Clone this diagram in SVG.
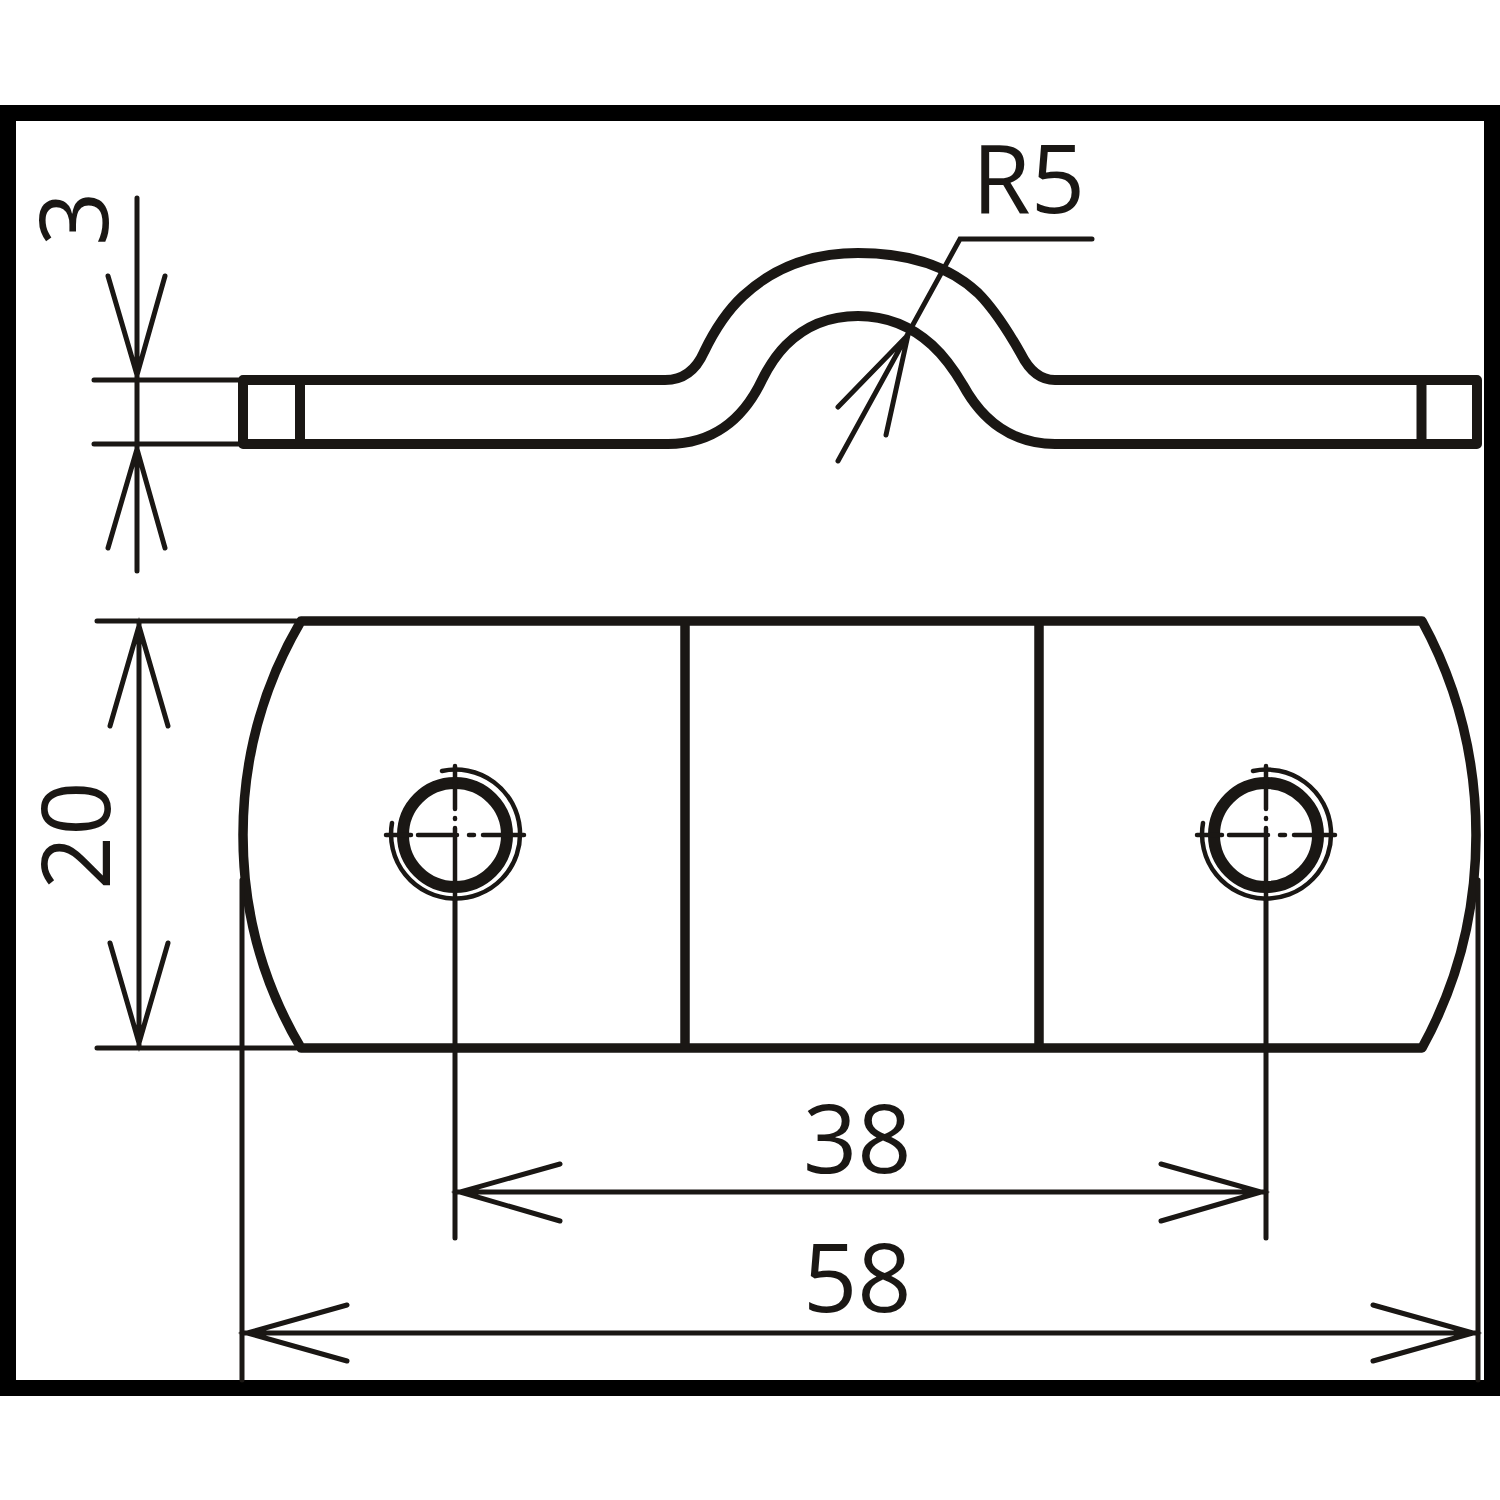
<svg xmlns="http://www.w3.org/2000/svg" width="1500" height="1500" viewBox="0 0 1500 1500">
<style>
.t{font-family:"Open Sans","Liberation Sans",sans-serif;font-size:95px;fill:#1a1714}
.h{fill:none;stroke:#1a1714;stroke-width:10;stroke-linejoin:round}
.s{fill:none;stroke:#1a1714;stroke-width:9.5;stroke-linejoin:round}
.d{fill:none;stroke:#1a1714;stroke-width:5;stroke-linecap:round;stroke-linejoin:miter}
.c{fill:none;stroke:#1a1714;stroke-width:4.5;stroke-linecap:round}
.r{fill:none;stroke:#1a1714;stroke-width:12}
</style>
<rect width="1500" height="1500" fill="#fff"/>
<rect x="8" y="113" width="1484" height="1275" fill="none" stroke="#000" stroke-width="16"/>
<g id="side-view">
<path class="h" d="M243 380H665C683 380 696 370 704 352C716 327 728 310 743 296C775 266 815 253 858 253C905 253 948 265 978 293C995 310 1008 331 1021 354C1029 370 1040 380 1055 380H1477V444H1055C1012 444 982 420 963 385C953 368 945 357 932 345C911 326 886 316 858 316C830 316 805 326 786 345C775 356 769 366 762 380C743 420 712 444 668 444H243Z"/>
<path class="h" d="M300 380V444M1421.500 380V444"/>
</g>
<g id="top-view">
<path class="s" d="M301 621H1422Q1476 720 1476 835Q1476 950 1422 1048H301Q243 950 243 835Q243 720 301 621Z"/>
<path class="s" d="M685 621V1048M1039 621V1048"/>
</g>
<g id="hole-left">
<circle class="r" cx="455" cy="835" r="52"/>
<path class="c" d="M442 771A64.500 64.500 0 1 1 392 823"/>
<path class="c" d="M386 835H411M418 835H457M469 835H474M483 835H524M455 766V809M455 818V819M455 828V900"/>
</g>
<g id="hole-right">
<circle class="r" cx="1266" cy="835" r="52"/>
<path class="c" d="M1253 771A64.500 64.500 0 1 1 1203 823"/>
<path class="c" d="M1197 835H1222M1229 835H1268M1280 835H1285M1294 835H1335M1266 766V809M1266 818V819M1266 828V900"/>
</g>
<g id="connectors">
<path class="d" d="M94 380H238M94 444H238M137 198V571M108 276L137 375L165 276M108 548L137 449L165 548"/>
<path class="d" d="M97 621H296M97 1048H296M139 621V1048M110 726L139 626L168 726M110 943L139 1043L168 943"/>
<path class="d" d="M242 880V1380M1478 880V1380M455 900V1238M1266 900V1238"/>
<path class="d" d="M455 1192H1266M560 1164L460 1192L560 1221M1161 1164L1261 1192L1161 1221"/>
<path class="d" d="M242 1333H1478M347 1305L247 1333L347 1361M1373 1305L1473 1333L1373 1361"/>
<path class="d" d="M1092 239H960L838 461M908 335L838 407M908 335L886 435"/>
</g>
<g id="labels">
<text class="t" x="972" y="213">R5</text>
<text class="t" x="803" y="1173">38</text>
<text class="t" x="803" y="1312">58</text>
<text class="t" transform="translate(108 246) rotate(-90)">3</text>
<text class="t" transform="translate(110 890) rotate(-90)">20</text>
</g>
</svg>
